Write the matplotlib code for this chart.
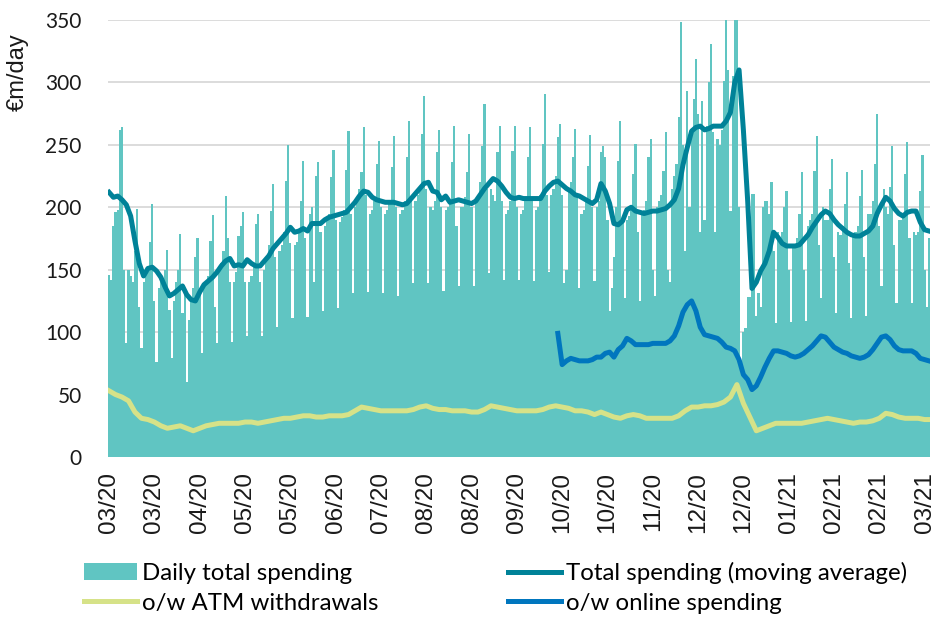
import numpy as np
import pandas as pd
import matplotlib
matplotlib.use('Agg')
import matplotlib.pyplot as plt
import matplotlib.dates as mdates

plt.rcParams['font.family'] = ['Lato', 'DejaVu Sans']

# daily total card spending, EUR m/day, from Sat 7 Mar 2020 (rows are Mon..Sun weeks)
daily_total = [
    146, 142,
    185, 196, 198, 262, 264, 150, 91,    # 09 Mar
    150, 145, 140, 165, 199, 120, 87,    # 16 Mar
    140, 150, 148, 172, 203, 125, 76,    # 23 Mar
    135, 140, 140, 150, 166, 118, 79,    # 30 Mar
    125, 140, 150, 179, 115, 135, 60,    # 06 Apr
    110, 125, 135, 160, 175, 130, 83,    # 13 Apr
    135, 140, 145, 173, 194, 120, 91,    # 20 Apr
    150, 155, 165, 209, 175, 140, 92,    # 27 Apr
    140, 148, 177, 185, 196, 140, 97,    # 04 May
    140, 145, 155, 187, 195, 140, 97,    # 11 May
    150, 158, 170, 197, 219, 160, 104,   # 18 May
    165, 170, 180, 221, 250, 171, 111,   # 25 May
    170, 172, 180, 205, 237, 175, 112,   # 01 Jun
    195, 200, 140, 225, 236, 180, 117,   # 08 Jun
    185, 190, 195, 224, 246, 190, 119,   # 15 Jun
    188, 192, 198, 230, 261, 195, 131,   # 22 Jun
    200, 205, 215, 228, 264, 210, 132,   # 29 Jun
    195, 198, 205, 235, 253, 200, 131,   # 06 Jul
    195, 198, 205, 232, 257, 200, 129,   # 13 Jul
    195, 198, 205, 240, 269, 205, 139,   # 20 Jul
    205, 210, 215, 259, 289, 215, 139,   # 27 Jul
    200, 198, 205, 244, 262, 200, 133,   # 03 Aug
    198, 200, 205, 236, 265, 185, 137,   # 10 Aug
    200, 200, 208, 228, 259, 200, 137,   # 17 Aug
    205, 210, 220, 249, 283, 215, 147,   # 24 Aug
    215, 210, 205, 244, 265, 205, 142,   # 31 Aug
    195, 198, 205, 245, 265, 200, 142,   # 07 Sep
    195, 198, 205, 240, 264, 205, 141,   # 14 Sep
    198, 200, 210, 251, 291, 210, 148,   # 21 Sep
    210, 215, 225, 256, 267, 210, 139,   # 28 Sep
    150, 215, 220, 240, 263, 210, 135,   # 05 Oct
    195, 198, 205, 233, 258, 200, 141,   # 12 Oct
    200, 205, 244, 249, 240, 190, 117,   # 19 Oct
    135, 160, 200, 237, 269, 190, 127,   # 26 Oct
    190, 193, 200, 227, 251, 180, 125,   # 02 Nov
    195, 198, 205, 240, 255, 150, 129,   # 09 Nov
    200, 205, 210, 229, 260, 150, 140,   # 16 Nov
    215, 225, 235, 272, 348, 250, 165,   # 23 Nov
    293, 200, 262, 287, 319, 275, 180,   # 30 Nov
    285, 190, 265, 300, 331, 260, 180,   # 07 Dec
    255, 250, 262, 301, 365, 310, 197,   # 14 Dec
    305, 360, 370, 200, 75, 100, 103,    # 21 Dec
    128, 128, 211, 211, 113, 131, 120,   # 28 Dec
    200, 205, 205, 195, 220, 165, 107,   # 04 Jan
    180, 175, 180, 200, 213, 150, 108,   # 11 Jan
    170, 170, 175, 195, 228, 150, 109,   # 18 Jan
    185, 190, 195, 229, 257, 170, 127,   # 25 Jan
    200, 190, 190, 215, 239, 160, 115,   # 01 Feb
    180, 178, 185, 203, 228, 155, 111,   # 08 Feb
    178, 180, 185, 209, 230, 160, 113,   # 15 Feb
    195, 195, 205, 235, 275, 185, 137,   # 22 Feb
    215, 200, 195, 216, 249, 170, 123,   # 01 Mar
    190, 190, 195, 227, 252, 175, 123,   # 08 Mar
    180, 178, 180, 213, 242, 150, 120,   # 15 Mar
    175,
]

# total spending moving average, every 2nd day from 7 Mar 2020
total_ma = [
    212, 208, 209, 206, 202, 193, 173, 155, 145, 151,
    152, 149, 144, 136, 129, 131, 134, 137, 130, 126,
    125, 132, 138, 141, 144, 148, 153, 157, 159, 153,
    154, 153, 158, 155, 153, 153, 157, 161, 167, 171,
    175, 179, 184, 180, 181, 183, 181, 187, 187, 187,
    190, 192, 193, 194, 195, 196, 200, 204, 209, 213,
    212, 208, 206, 205, 204, 204, 204, 203, 202, 203,
    207, 211, 215, 219, 220, 213, 212, 206, 209, 204,
    205, 206, 205, 204, 203, 205, 210, 215, 219, 223,
    221, 217, 212, 208, 207, 208, 207, 207, 207, 207,
    207, 213, 217, 220, 221, 218, 215, 213, 210, 209,
    207, 205, 203, 206, 219, 213, 203, 187, 186, 189,
    198, 200, 197, 196, 195, 196, 197, 197, 198, 199,
    202, 206, 215, 234, 248, 261, 264, 265, 262, 263,
    265, 265, 265, 269, 276, 300, 310, 262, 205, 135,
    140, 149, 155, 165, 180, 176, 171, 169, 169, 169,
    170, 174, 178, 184, 189, 194, 197, 195, 190, 186,
    183, 180, 178, 177, 177, 179, 181, 185, 195, 202,
    208, 205, 199, 195, 193, 196, 197, 197, 188, 182,
    181,
]

# o/w ATM withdrawals (moving average), every 3rd day, plus the last day
atm_ma = [
    53, 50, 48, 45, 36, 31, 30, 28, 25, 23,
    24, 25, 23, 21, 23, 25, 26, 27, 27, 27,
    27, 28, 28, 27, 28, 29, 30, 31, 31, 32,
    33, 33, 32, 32, 33, 33, 33, 34, 37, 40,
    39, 38, 37, 37, 37, 37, 37, 38, 40, 41,
    39, 38, 38, 37, 37, 37, 36, 36, 38, 41,
    40, 39, 38, 37, 37, 37, 37, 38, 40, 41,
    40, 39, 37, 37, 36, 34, 36, 34, 32, 31,
    33, 34, 33, 31, 31, 31, 31, 31, 33, 37,
    40, 40, 41, 41, 42, 44, 48, 58, 43, 32,
    21, 23, 25, 27, 27, 27, 27, 27, 28, 29,
    30, 31, 30, 29, 28, 27, 28, 28, 29, 31,
    35, 34, 32, 31, 31, 31, 30, 30,
]

# o/w online spending (moving average), every 2nd day from 1 Oct 2020
online_ma = [
    99, 74, 77, 79, 78, 77, 77, 77, 78, 80,
    80, 83, 84, 80, 86, 89, 95, 93, 90, 90,
    90, 90, 91, 91, 91, 91, 93, 97, 105, 116,
    122, 125, 117, 104, 98, 97, 96, 95, 92, 88,
    87, 85, 78, 66, 62, 54, 57, 64, 72, 79,
    85, 85, 84, 83, 81, 80, 81, 83, 86, 89,
    93, 97, 96, 92, 88, 86, 84, 83, 81, 80,
    79, 80, 82, 86, 91, 96, 97, 94, 89, 86,
    85, 85, 85, 83, 79, 78, 77,
]

tick_labels = ['03/20', '03/20', '04/20', '05/20', '05/20', '06/20', '07/20',
               '08/20', '08/20', '09/20', '10/20', '10/20', '11/20', '12/20',
               '12/20', '01/21', '02/21', '02/21', '03/21']

days = mdates.date2num(pd.date_range('2020-03-07', periods=len(daily_total)))
ma_x = days[::2]
atm_x = np.append(days[::3], days[-1])
online_x = days[208::2]

c_bar = '#60C5C2'
c_ma = '#008298'
c_online = '#0076BE'
c_atm = '#D6E288'

fig = plt.figure(figsize=(9.36, 6.17), dpi=100)
ax = fig.add_axes([108 / 936, 1 - 457 / 617, 822 / 936, 437 / 617])

bars = ax.bar(days, daily_total, width=1.0, color=c_bar, linewidth=0, antialiased=False,
              zorder=2)
l_atm, = ax.plot(atm_x, atm_ma, color=c_atm, lw=3.6, zorder=3)
l_ma, = ax.plot(ma_x, total_ma, color=c_ma, lw=3.6, zorder=4)
l_on, = ax.plot(online_x, online_ma, color=c_online, lw=3.6, zorder=4)

ax.set_xlim(days[0] - 0.5, days[-1] + 0.5)
ax.set_ylim(0, 350)
ax.set_yticks(range(0, 351, 50))
ax.grid(axis='y', color='#D9D9D9', lw=1.3)
ax.set_axisbelow(True)
for s in ax.spines.values():
    s.set_visible(False)

ax.set_xticks(days[::21])
ax.set_xticklabels(tick_labels, rotation=90, family=['Liberation Sans'], fontsize=17.5)
ax.tick_params(axis='x', length=0, pad=11, colors='#1a1a1a')
ax.tick_params(axis='y', length=0, pad=19, labelsize=15, colors='#1a1a1a')

fig.text(18 / 936, 1 - 72 / 617, '€m/day', rotation=90, ha='center', va='center',
         family=['Liberation Sans'], fontsize=17, color='#1a1a1a')

fig.legend([bars, l_atm, l_ma, l_on],
           ['Daily total spending', 'o/w ATM withdrawals',
            'Total spending (moving average)', 'o/w online spending'],
           ncol=2, loc='upper left', bbox_to_anchor=(84 / 936, 1 - 562 / 617),
           frameon=False, fontsize=17.3, handlelength=2.2, handletextpad=0.2,
           columnspacing=5.4, labelspacing=0.35, borderpad=0, borderaxespad=0)

fig.savefig('out.png', dpi=100)
